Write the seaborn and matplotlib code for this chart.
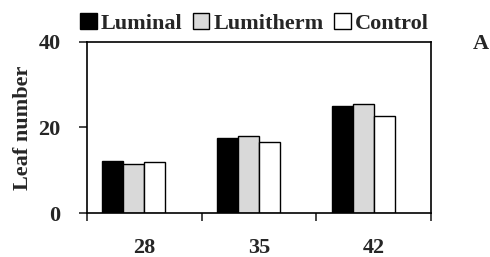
"""Leaf number per treatment at 28, 35 and 42 days (grouped bars)."""

import matplotlib

matplotlib.use("Agg")
import matplotlib.pyplot as plt
import pandas as pd
import seaborn as sns
from matplotlib.patches import Patch

days = ["28", "35", "42"]
treatments = ["Luminal", "Lumitherm", "Control"]
luminal = [12.2, 17.6, 25.1]
lumitherm = [11.5, 17.9, 25.4]
control = [11.9, 16.5, 22.8]
colors = ["black", "#d9d9d9", "white"]

df = pd.DataFrame(
    {
        "day": days * 3,
        "treatment": [t for t in treatments for _ in days],
        "leaves": luminal + lumitherm + control,
    }
)

sns.set_style("white")
plt.rcParams["font.family"] = ["Liberation Serif", "DejaVu Serif"]
plt.rcParams["font.weight"] = "bold"
plt.rcParams["font.size"] = 16

fig = plt.figure(figsize=(4.9, 2.57), dpi=100)
ax = fig.add_axes([0.1776, 0.1712, 0.702, 0.6654])

# a fourth (empty) slot keeps the spreadsheet-style offset of each group
slots = treatments + ["_empty"]
sns.barplot(
    data=df,
    x="day",
    y="leaves",
    hue="treatment",
    hue_order=slots,
    palette=colors + ["white"],
    width=0.733,
    edgecolor="black",
    linewidth=1.0,
    saturation=1,
    errorbar=None,
    legend=False,
    ax=ax,
)

ax.set_xlim(-0.5, 2.5)
ax.set_ylim(0, 40)
ax.set_yticks([0, 20, 40])
ax.set_ylabel("Leaf number", fontweight="bold", labelpad=4)
ax.set_xlabel("")

# boundary ticks without labels, labels centred on categories
ax.set_xticks([-0.5, 0.5, 1.5, 2.5])
ax.set_xticklabels([])
ax.set_xticks([0, 1, 2], minor=True)
ax.set_xticklabels(days, minor=True, fontweight="bold")
ax.tick_params(axis="x", which="major", direction="out", length=6, width=1.2,
               bottom=True)
ax.tick_params(axis="x", which="minor", length=0, pad=18)
ax.tick_params(axis="y", direction="out", length=6, width=1.2, pad=13, left=True)
for lab in ax.get_yticklabels():
    lab.set_fontweight("bold")

for side in ["left", "bottom", "right", "top"]:
    ax.spines[side].set_visible(True)
    ax.spines[side].set_color("black")
    ax.spines[side].set_linewidth(1.2)

handles = [Patch(facecolor=c, edgecolor="black", linewidth=1.0) for c in colors]
fig.legend(
    handles,
    treatments,
    loc="center left",
    bbox_to_anchor=(0.163, 0.91),
    ncol=3,
    frameon=False,
    handlelength=0.75,
    handleheight=0.75,
    handletextpad=0.2,
    columnspacing=0.45,
    borderaxespad=0,
    borderpad=0,
    prop={"weight": "bold", "size": 16},
)

fig.text(0.9643, 0.829, "A", fontweight="bold", fontsize=16, ha="left", va="center")

fig.savefig("out.png", dpi=100)
plt.close(fig)
